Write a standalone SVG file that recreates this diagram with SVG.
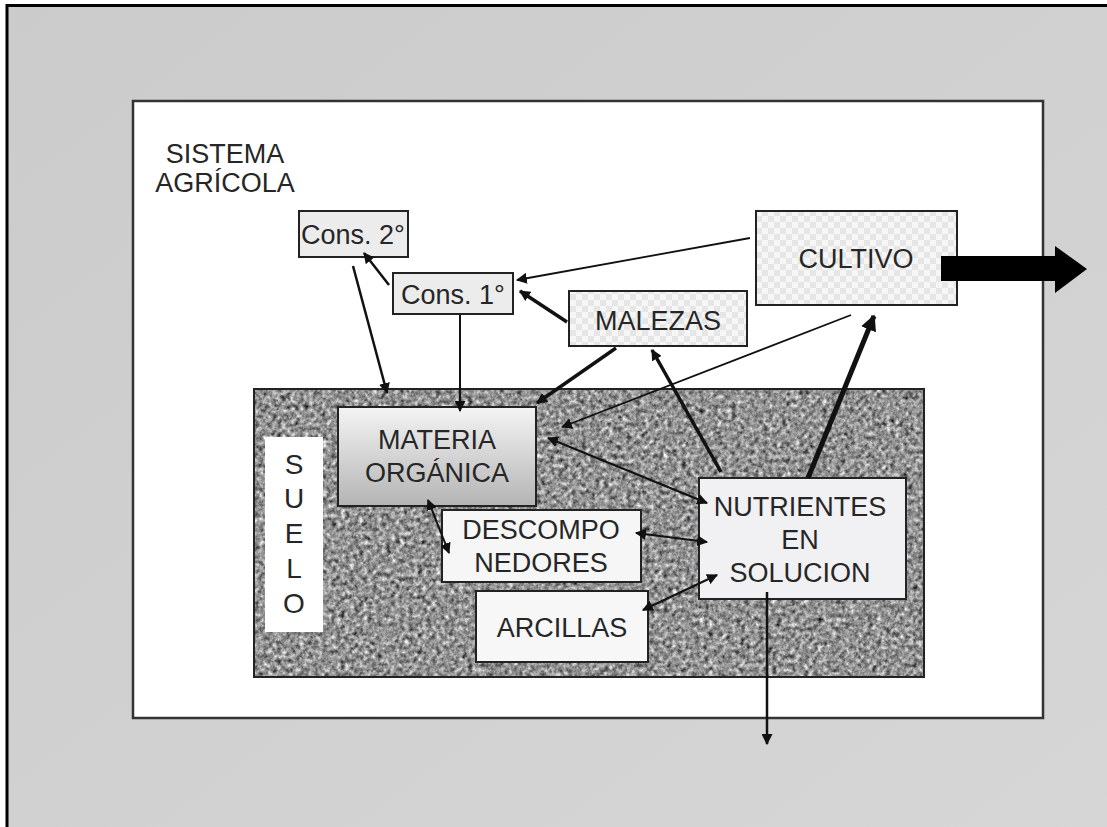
<svg xmlns="http://www.w3.org/2000/svg" width="1107" height="827" viewBox="0 0 1107 827">
<style>
.t{font-family:"Liberation Sans",Arial,sans-serif;font-size:27px;fill:#262626;text-anchor:middle}
.box{stroke:#222;stroke-width:2}
.c{fill:none;stroke:#111}
</style>
<defs>
<linearGradient id="bg" x1="0" y1="0" x2="1" y2="1">
<stop offset="0" stop-color="#cbcbcb"/><stop offset="1" stop-color="#d6d6d6"/>
</linearGradient>
<linearGradient id="mo" x1="0" y1="0" x2="0" y2="1">
<stop offset="0" stop-color="#f4f4f4"/><stop offset="1" stop-color="#b4b4b4"/>
</linearGradient>
<pattern id="chk" width="12" height="12" patternUnits="userSpaceOnUse">
<rect width="12" height="12" fill="#f6f6f6"/>
<rect width="6" height="6" fill="#e6e6e6"/>
<rect x="6" y="6" width="6" height="6" fill="#e6e6e6"/>
</pattern>
<filter id="granite" x="0" y="0" width="100%" height="100%" color-interpolation-filters="sRGB">
<feTurbulence type="fractalNoise" baseFrequency="0.22" numOctaves="3" seed="7" result="n"/>
<feColorMatrix in="n" type="matrix" values="0.6 0.6 0.6 0 -0.33  0.6 0.6 0.6 0 -0.33  0.6 0.6 0.6 0 -0.33  0 0 0 0 1" result="g"/>
<feComposite in="g" in2="SourceGraphic" operator="in"/>
</filter>
<marker id="a" viewBox="0 0 10 10" refX="9" refY="5" markerWidth="11" markerHeight="11" markerUnits="userSpaceOnUse" orient="auto-start-reverse">
<path d="M0,0 L10,5 L0,10 z" fill="#111"/>
</marker>
<marker id="ab" viewBox="0 0 10 10" refX="9" refY="5" markerWidth="16" markerHeight="16" markerUnits="userSpaceOnUse" orient="auto-start-reverse">
<path d="M0,0 L10,5 L0,10 z" fill="#111"/>
</marker>
</defs>

<g id="background">
<rect x="0" y="0" width="1107" height="827" fill="#fff"/>
<rect x="7" y="5" width="1100" height="822" fill="url(#bg)"/>
<path d="M7,827 V5.5 H1107" fill="none" stroke="#000" stroke-width="3"/>
<rect x="133" y="101" width="910" height="617" fill="#fff" stroke="#333" stroke-width="2.5"/>
<text class="t" x="225" y="163">SISTEMA</text>
<text class="t" x="225" y="192">AGRÍCOLA</text>
</g>

<g id="suelo">
<rect x="254" y="389" width="670" height="288" fill="#888" filter="url(#granite)"/>
<rect x="254" y="389" width="670" height="288" fill="none" stroke="#222" stroke-width="2"/>
<rect x="265" y="437" width="58" height="195" fill="#fff"/>
<text class="t" x="294" y="474" style="font-size:28px">S</text>
<text class="t" x="294" y="508" style="font-size:28px">U</text>
<text class="t" x="294" y="543" style="font-size:28px">E</text>
<text class="t" x="294" y="578" style="font-size:28px">L</text>
<text class="t" x="294" y="613" style="font-size:28px">O</text>
</g>

<g id="cons2">
<rect class="box" x="299" y="211" width="109" height="46" fill="#ececec"/>
<text class="t" x="353" y="244">Cons. 2°</text>
</g>
<g id="cons1">
<rect class="box" x="393" y="273" width="120" height="41" fill="#ececec"/>
<text class="t" x="453" y="304">Cons. 1°</text>
</g>
<g id="malezas">
<rect class="box" x="569" y="291" width="178" height="55" fill="url(#chk)"/>
<text class="t" x="658" y="330">MALEZAS</text>
</g>
<g id="cultivo">
<rect class="box" x="756" y="211" width="201" height="94" fill="url(#chk)"/>
<text class="t" x="856" y="268">CULTIVO</text>
</g>
<g id="materia">
<rect class="box" x="338" y="407" width="198" height="99" fill="url(#mo)"/>
<text class="t" x="437" y="449">MATERIA</text>
<text class="t" x="437" y="482">ORGÁNICA</text>
</g>
<g id="descomponedores">
<rect class="box" x="442" y="510" width="199" height="72" fill="#f6f6f6"/>
<text class="t" x="541" y="539">DESCOMPO</text>
<text class="t" x="541" y="572">NEDORES</text>
</g>
<g id="arcillas">
<rect class="box" x="476" y="591" width="172" height="71" fill="#f7f7f7"/>
<text class="t" x="562" y="637">ARCILLAS</text>
</g>
<g id="nutrientes">
<rect class="box" x="699" y="478" width="207" height="121" fill="#f1f1f3"/>
<text class="t" x="800" y="516">NUTRIENTES</text>
<text class="t" x="800" y="549">EN</text>
<text class="t" x="800" y="582">SOLUCION</text>
</g>

<g id="connectors">
<path class="c" d="M750,238 L517,280" stroke-width="1.8" marker-end="url(#a)"/>
<path class="c" d="M567,322 L520,291" stroke-width="3.5" marker-end="url(#a)"/>
<path class="c" d="M389,285 L364,253" stroke-width="2.5" marker-end="url(#a)"/>
<path class="c" d="M353,266 L387,393" stroke-width="2.5" marker-end="url(#a)"/>
<path class="c" d="M460,315 L460,411" stroke-width="2" marker-end="url(#a)"/>
<path class="c" d="M616,348 L537,403" stroke-width="3.5" marker-end="url(#a)"/>
<path class="c" d="M851,315 L562,427" stroke-width="1.8" marker-end="url(#a)"/>
<path class="c" d="M721,472 L652,350" stroke-width="3.5" marker-end="url(#a)"/>
<path class="c" d="M808,478 L874,316" stroke-width="5" marker-end="url(#ab)"/>
<path class="c" d="M548,438 L707,503" stroke-width="2" marker-start="url(#a)" marker-end="url(#a)"/>
<path class="c" d="M636,533 L707,542" stroke-width="2" marker-start="url(#a)" marker-end="url(#a)"/>
<path class="c" d="M643,610 L717,575" stroke-width="2" marker-start="url(#a)" marker-end="url(#a)"/>
<path class="c" d="M428,500 L449,553" stroke-width="2" marker-start="url(#a)" marker-end="url(#a)"/>
<path class="c" d="M767,592 L767,744" stroke-width="2.5" marker-end="url(#a)"/>
<polygon points="941,256 1055,256 1055,246 1087,269 1055,293 1055,281 941,281" fill="#000"/>
</g>
</svg>
